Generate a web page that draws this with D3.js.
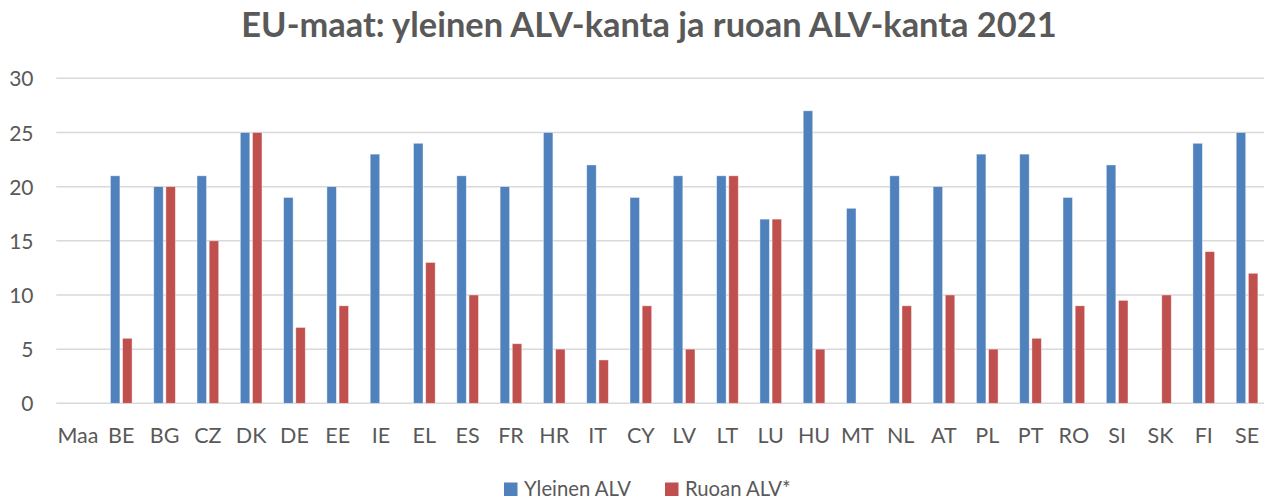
<html>
<head>
<title>EU-maat ALV</title>
<script type="text/javascript" src="https://cdn.jsdelivr.net/npm/d3@7"></script>
<style>
  * { margin: 0; padding: 0; }
  body { background: #fff; }
  #chart { width: 1264px; height: 498px; overflow: hidden; }
  text { font-family: Lato, "Open Sans", sans-serif; fill: #595959; }
</style>
</head>
<body>
<div id="chart"></div>
<script type="text/javascript">
var countries = ['Maa', 'BE', 'BG', 'CZ', 'DK', 'DE', 'EE', 'IE', 'EL', 'ES', 'FR', 'HR', 'IT', 'CY',
                 'LV', 'LT', 'LU', 'HU', 'MT', 'NL', 'AT', 'PL', 'PT', 'RO', 'SI', 'SK', 'FI', 'SE'];
var yleinenAlv = [null, 21, 20, 21, 25, 19, 20, 23, 24, 21, 20, 25, 22, 19,
                  21, 21, 17, 27, 18, 21, 20, 23, 23, 19, 22, null, 24, 25];
var ruoanAlv = [null, 6, 20, 15, 25, 7, 9, 0, 13, 10, 5.5, 5, 4, 9,
                5, 21, 17, 5, 0, 9, 10, 5, 6, 9, 9.5, 10, 14, 12];
var seriesNames = ['Yleinen ALV', 'Ruoan ALV*'];
var seriesColors = ['#4F81BD', '#C0504D'];
var yTicks = [0, 5, 10, 15, 20, 25, 30];
var title = 'EU-maat: yleinen ALV-kanta ja ruoan ALV-kanta 2021';

(function() {
  var width = 1264, height = 498;
  var left = 56.3, step = 43.3;

  var svg = d3.select('#chart').append('svg')
      .attr('width', width)
      .attr('height', height);

  var x0 = d3.scaleBand()
      .domain(countries)
      .range([left, left + step * countries.length])
      .padding(0);

  var bw = x0.bandwidth();
  var x1 = d3.scaleBand()
      .domain([0, 1])
      .range([bw * 0.25, bw * 0.75])
      .paddingInner(0.22);

  var y = d3.scaleLinear().domain([0, 30]).range([403.3, 78.3]);

  // title
  svg.append('text')
      .attr('x', 649)
      .attr('y', 37)
      .attr('text-anchor', 'middle')
      .style('font-size', '34.4px')
      .style('font-weight', 'bold')
      .text(title);

  // gridlines
  svg.append('g')
    .selectAll('line')
      .data(yTicks)
    .enter().append('line')
      .attr('x1', left)
      .attr('x2', width)
      .attr('y1', function(d) { return y(d); })
      .attr('y2', function(d) { return y(d); })
      .attr('stroke', '#D9D9D9')
      .attr('stroke-width', 1.5);

  // y axis labels
  var yAxis = d3.axisLeft(y).tickValues(yTicks).tickSize(0).tickPadding(0);
  var ya = svg.append('g').attr('transform', 'translate(33.5,0)').call(yAxis);
  ya.select('.domain').remove();
  ya.selectAll('text')
      .style('font-size', '21px')
      .style('font-family', 'Lato, sans-serif')
      .attr('fill', '#595959')
      .attr('dy', '0.36em');

  // x axis labels
  var xAxis = d3.axisBottom(x0).tickSize(0).tickPadding(0);
  var xa = svg.append('g').attr('transform', 'translate(0,443)').call(xAxis);
  xa.select('.domain').remove();
  xa.selectAll('text')
      .style('font-size', '21.5px')
      .style('font-family', 'Lato, sans-serif')
      .attr('fill', '#595959')
      .attr('dy', 0);

  // bars
  var rows = countries.map(function(c, i) {
    return {c: c, vals: [yleinenAlv[i], ruoanAlv[i]]};
  });

  var groups = svg.append('g')
    .selectAll('g')
      .data(rows)
    .enter().append('g')
      .attr('transform', function(d) { return 'translate(' + x0(d.c) + ',0)'; });

  groups.selectAll('rect')
      .data(function(d) {
        return d.vals.map(function(v, k) { return {k: k, v: v}; })
          .filter(function(e) { return e.v != null && e.v > 0; });
      })
    .enter().append('rect')
      .attr('x', function(d) { return x1(d.k); })
      .attr('width', x1.bandwidth())
      .attr('y', function(d) { return y(d.v); })
      .attr('height', function(d) { return y(0) - y(d.v); })
      .attr('fill', function(d) { return seriesColors[d.k]; })
      .attr('stroke', '#ffffff')
      .attr('stroke-opacity', 0.5)
      .attr('stroke-width', 0.8);

  // legend
  var legendX = [504, 665];
  var lg = svg.append('g')
    .selectAll('g')
      .data(seriesNames)
    .enter().append('g')
      .attr('transform', function(d, i) { return 'translate(' + legendX[i] + ',482.5)'; });
  lg.append('rect')
      .attr('width', 13.5)
      .attr('height', 13.5)
      .attr('fill', function(d, i) { return seriesColors[i]; });
  lg.append('text')
      .attr('x', 20)
      .attr('y', 13)
      .style('font-size', '20.3px')
      .text(function(d) { return d; });
})();
</script>
</body>
</html>
